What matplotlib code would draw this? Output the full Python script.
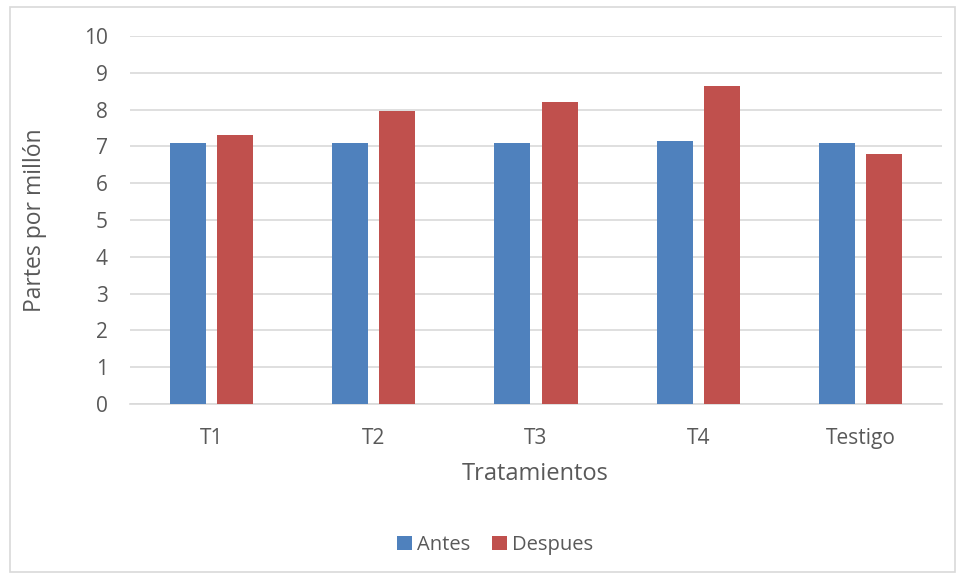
import numpy as np
import matplotlib.pyplot as plt
from matplotlib.patches import Rectangle

plt.rcParams['font.family'] = ['Open Sans', 'DejaVu Sans']

# datos
tratamientos = ["T1", "T2", "T3", "T4", "Testigo"]
antes = [7.08, 7.10, 7.08, 7.14, 7.10]
despues = [7.30, 7.95, 8.22, 8.63, 6.79]

gris = "#595959"
azul = "#4f81bd"
rojo = "#c0504d"

fig = plt.figure(figsize=(9.64, 5.78), dpi=100)
ax = fig.add_axes([130 / 964, 1 - 404 / 578, (942 - 130) / 964, (404 - 36) / 578])

x = np.arange(len(tratamientos))
w = 0.222
ax.bar(x - 0.145, antes, w, color=azul, label="Antes", zorder=3)
ax.bar(x + 0.145, despues, w, color=rojo, label="Despues", zorder=3)

ax.set_xlim(-0.5, len(tratamientos) - 0.5)
ax.set_ylim(0, 10)
ax.set_yticks(range(0, 11))
ax.set_xticks(x)
ax.set_xticklabels(tratamientos)
ax.yaxis.grid(True, color="#d9d9d9", linewidth=1.2, zorder=0)
ax.set_axisbelow(True)
for s in ["top", "right", "left"]:
    ax.spines[s].set_visible(False)
ax.spines["bottom"].set_color("#d9d9d9")
ax.spines["bottom"].set_linewidth(1.2)
ax.tick_params(axis="both", length=0, colors=gris, labelsize=15)
ax.tick_params(axis="y", pad=16)
ax.tick_params(axis="x", pad=17)

fig.text(535 / 964, 1 - 474 / 578, "Tratamientos", ha="center", va="center",
         fontsize=17, color=gris)
fig.text(35 / 964, 1 - 220 / 578, "Partes por millón", ha="center", va="center",
         rotation=90, fontsize=16.5, color=gris)

fig.legend(loc="center", bbox_to_anchor=(495 / 964, 1 - 545 / 578), ncol=2,
           frameon=False, fontsize=14.5, labelcolor=gris, handlelength=0.75,
           handleheight=0.75, handletextpad=0.25, columnspacing=1.1)

fig.patches.append(Rectangle((10 / 964, 1 - 572 / 578), 945 / 964, 565 / 578,
                             transform=fig.transFigure, fill=False,
                             edgecolor="#d9d9d9", linewidth=1.2))

fig.savefig("out.png", dpi=100, facecolor="white")
